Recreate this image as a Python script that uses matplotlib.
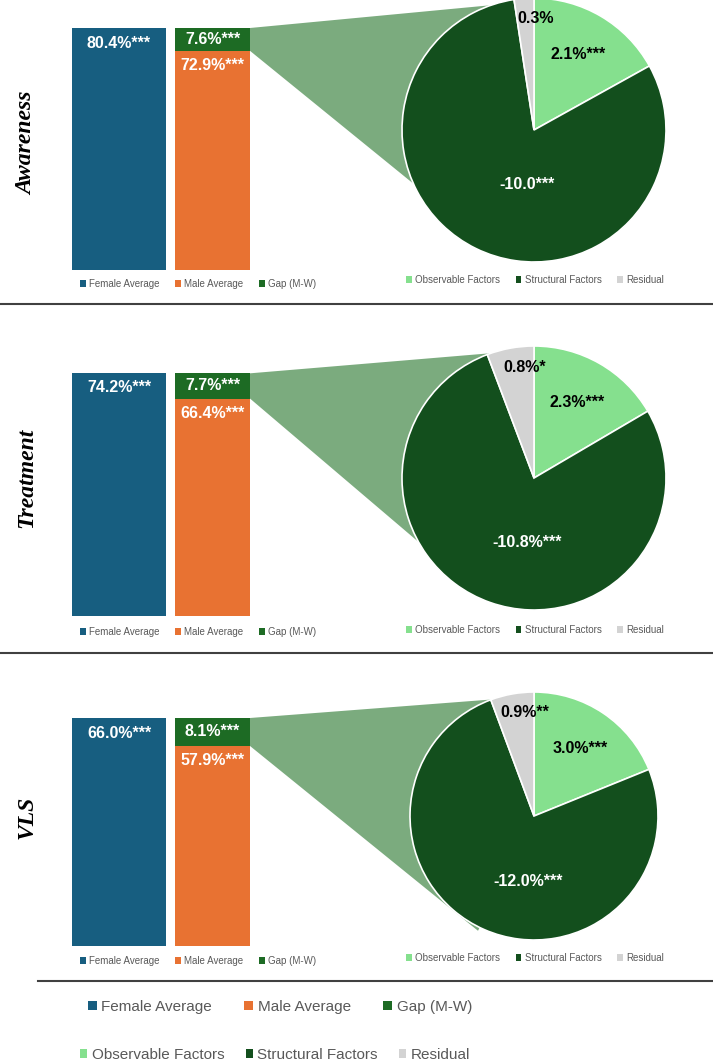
import numpy as np
import matplotlib
matplotlib.use("Agg")
import matplotlib.pyplot as plt
from matplotlib.patches import Patch, Polygon
from matplotlib import font_manager

# ---- data ----
outcomes = ["Awareness", "Treatment", "VLS"]
female_avg = [80.4, 74.2, 66.0]
male_avg = [72.9, 66.4, 57.9]
gap_mw = [7.6, 7.7, 8.1]
female_sig = ["***", "***", "***"]
male_sig = ["***", "***", "***"]
gap_sig = ["***", "***", "***"]

observable = [2.1, 2.3, 3.0]
structural = [-10.0, -10.8, -12.0]
residual = [0.3, 0.8, 0.9]
observable_sig = ["***", "***", "***"]
structural_sig = ["***", "***", "***"]
residual_sig = ["", "*", "**"]
structural_unit = ["", "%", "%"]

bar_names = ["Female Average", "Male Average", "Gap (M-W)"]
pie_names = ["Observable Factors", "Structural Factors", "Residual"]

# ---- colours ----
C_FEMALE = "#175e80"
C_MALE = "#e87232"
C_GAP = "#1d6b24"
C_OBS = "#85e08e"
C_STRUCT = "#134f1d"
C_RESID = "#d3d3d3"
C_CONN = "#7bab7e"
C_TXT = "#595959"

names = {f.name for f in font_manager.fontManager.ttflist}
NARROW = "Liberation Sans Narrow" if "Liberation Sans Narrow" in names else "Liberation Sans"
BIG_LEG_SIZE = 12.5 if NARROW == "Liberation Sans Narrow" else 11
SANS = "Liberation Sans"

W, H = 713, 1062
fig = plt.figure(figsize=(W / 100, H / 100), dpi=100)


def px_rect(x0, y0, x1, y1):
    return [x0 / W, 1 - y1 / H, (x1 - x0) / W, (y1 - y0) / H]


# background overlay for connectors and separator lines
ax_bg = fig.add_axes([0, 0, 1, 1], zorder=0)
ax_bg.set_xlim(0, W)
ax_bg.set_ylim(H, 0)
ax_bg.axis("off")

# ---- layout (pixels) ----
bar_x0, bar_x1 = 72, 250
fem_w, male_x, male_w = 94, 103, 75
bar_top = [28, 373, 718]
bar_bottom = [270, 616, 946]
pie_cx = 534
pie_cy = [130, 478, 816]
pie_r = [132, 132, 124]
label_y = [143, 478, 817]
bar_leg_y = [284, 632, 961]
pie_leg_y = [280, 630, 958]
conn_top_deg = [109, 109, 110]
conn_bot_deg = [204, 209, 244]
conn_bot_rad = [1.0, 1.0, 1.03]
struct_lab_y = [-0.41, -0.49, -0.53]


def to_bg(ax, pts):
    return ax_bg.transData.inverted().transform(ax.transData.transform(pts))


for i, name in enumerate(outcomes):
    # --- bars ---
    axb = fig.add_axes(px_rect(bar_x0, bar_top[i], bar_x1, bar_bottom[i]), zorder=2)
    top = max(female_avg[i], male_avg[i] + gap_mw[i])
    axb.bar(0, female_avg[i], width=fem_w, align="edge", color=C_FEMALE)
    axb.bar(male_x, male_avg[i], width=male_w, align="edge", color=C_MALE)
    axb.bar(male_x, gap_mw[i], bottom=male_avg[i], width=male_w, align="edge", color=C_GAP)
    axb.set_xlim(0, male_x + male_w)
    axb.set_ylim(0, top)
    axb.axis("off")

    kw = dict(color="white", fontweight="bold", fontsize=11.5, family=SANS,
              ha="center", va="center", textcoords="offset pixels")
    axb.annotate(f"{female_avg[i]:.1f}%{female_sig[i]}", (fem_w / 2, top), xytext=(0, -15), **kw)
    axb.annotate(f"{male_avg[i]:.1f}%{male_sig[i]}", (male_x + male_w / 2, male_avg[i]), xytext=(0, -15), **kw)
    axb.annotate(f"{gap_mw[i]:.1f}%{gap_sig[i]}", (male_x + male_w / 2, male_avg[i] + gap_mw[i] / 2),
                 xytext=(0, 0), **kw)

    # --- pie ---
    r = pie_r[i]
    axp = fig.add_axes(px_rect(pie_cx - r, pie_cy[i] - r, pie_cx + r, pie_cy[i] + r), zorder=2)
    vals = [observable[i], abs(structural[i]), residual[i]]
    wedges, _ = axp.pie(vals, colors=[C_OBS, C_STRUCT, C_RESID], startangle=90,
                        counterclock=False, radius=1,
                        wedgeprops=dict(edgecolor="white", linewidth=1.2))
    axp.set_xlim(-1, 1)
    axp.set_ylim(-1, 1)
    axp.axis("off")

    def mid(w):
        return np.deg2rad((w.theta1 + w.theta2) / 2)

    a = mid(wedges[0])
    axp.text(0.66 * np.cos(a), 0.66 * np.sin(a), f"{observable[i]:.1f}%{observable_sig[i]}",
             ha="center", va="center", fontsize=11.5, fontweight="bold", family=SANS, color="black")
    axp.text(-0.05, struct_lab_y[i], f"{structural[i]:.1f}{structural_unit[i]}{structural_sig[i]}",
             ha="center", va="center", fontsize=11.5, fontweight="bold", family=SANS, color="white")
    a = mid(wedges[2])
    axp.text(0.85 * np.cos(a) + 0.08, 0.85 * np.sin(a), f"{residual[i]:.1f}%{residual_sig[i]}",
             ha="center", va="center", fontsize=11.5, fontweight="bold", family=SANS, color="black")

    # --- connector from gap segment to pie ---
    c_top = to_bg(axb, [(male_x + male_w, male_avg[i] + gap_mw[i])])[0]
    c_bot = to_bg(axb, [(male_x + male_w, male_avg[i])])[0]
    t1, t2 = np.deg2rad(conn_top_deg[i]), np.deg2rad(conn_bot_deg[i])
    p_top = to_bg(axp, [(np.cos(t1), np.sin(t1))])[0]
    p_bot = to_bg(axp, [(conn_bot_rad[i] * np.cos(t2), conn_bot_rad[i] * np.sin(t2))])[0]
    p_c = to_bg(axp, [(0, 0)])[0]
    ax_bg.add_patch(Polygon([c_top, p_top, p_c, p_bot, c_bot], closed=True,
                            facecolor=C_CONN, edgecolor="none"))

    # --- row label ---
    fig.text(27 / W, 1 - label_y[i] / H, name, rotation=90, ha="center", va="center",
             family="Liberation Serif", fontweight="bold", fontstyle="italic", fontsize=17)

    # --- small legends ---
    fig.legend([Patch(facecolor=c, edgecolor="none") for c in (C_FEMALE, C_MALE, C_GAP)], bar_names,
               loc="center", bbox_to_anchor=(198 / W, 1 - bar_leg_y[i] / H), ncol=3, frameon=False,
               prop=dict(family=SANS, size=7), labelcolor=C_TXT, handlelength=0.6, handleheight=0.6,
               handletextpad=0.35, columnspacing=1.6, borderpad=0)
    fig.legend([Patch(facecolor=c, edgecolor="none") for c in (C_OBS, C_STRUCT, C_RESID)], pie_names,
               loc="center", bbox_to_anchor=(535 / W, 1 - pie_leg_y[i] / H), ncol=3, frameon=False,
               prop=dict(family=SANS, size=7), labelcolor=C_TXT, handlelength=0.6, handleheight=0.6,
               handletextpad=0.35, columnspacing=1.6, borderpad=0)

# separator lines
for y, x0 in zip([304, 653, 981], [0, 0, 38]):
    ax_bg.plot([x0, W], [y, y], color="#404040", lw=1.5)

# bottom legends
fig.legend([Patch(facecolor=c, edgecolor="none") for c in (C_FEMALE, C_MALE, C_GAP)], bar_names,
           loc="center", bbox_to_anchor=(280 / W, 1 - 1007 / H), ncol=3, frameon=False,
           prop=dict(family=NARROW, size=BIG_LEG_SIZE), labelcolor=C_TXT, handlelength=0.6,
           handleheight=0.6, handletextpad=0.3, columnspacing=2.1, borderpad=0)
fig.legend([Patch(facecolor=c, edgecolor="none") for c in (C_OBS, C_STRUCT, C_RESID)], pie_names,
           loc="center", bbox_to_anchor=(275 / W, 1 - 1055 / H), ncol=3, frameon=False,
           prop=dict(family=NARROW, size=BIG_LEG_SIZE), labelcolor=C_TXT, handlelength=0.45,
           handleheight=0.45, handletextpad=0.3, columnspacing=1.4, borderpad=0)

fig.savefig("out.png", dpi=100, facecolor="white")
